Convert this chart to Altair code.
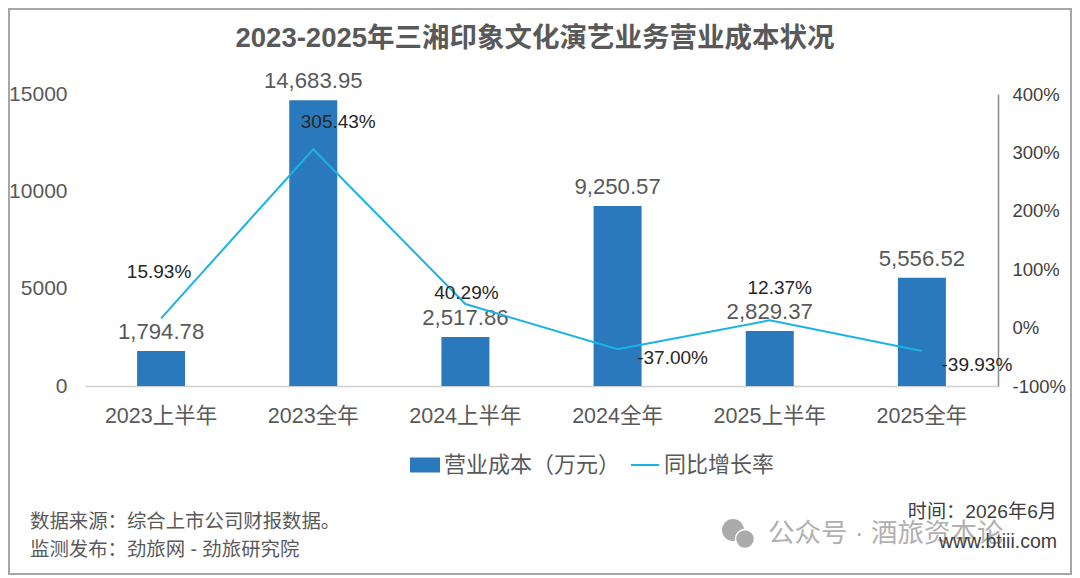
import altair as alt
import pandas as pd

categories = ["2023上半年", "2023全年", "2024上半年", "2024全年", "2025上半年", "2025全年"]
cost = [1794.78, 14683.95, 2517.86, 9250.57, 2829.37, 5556.52]
growth = [15.93, 305.43, 40.29, -37.00, 12.37, -39.93]
label_offsets = [(-2, -46), (25, -27), (1, -11), (55, 9), (10, -32), (55, 14)]

FONT = "Liberation Sans, Noto Sans CJK SC, sans-serif"
df = pd.DataFrame({"cat": categories, "cost": cost, "growth": growth})
df["series1"] = "营业成本（万元）"
df["series2"] = "同比增长率"
df["costLabel"] = [f"{v:,.2f}" for v in cost]
df["growthLabel"] = [f"{v:.2f}%" for v in growth]

x = alt.X("cat:N", sort=categories, title=None,
          scale=alt.Scale(paddingInner=0.68, paddingOuter=0.34, round=False),
          axis=alt.Axis(labelAngle=0, labelFontSize=21.5, labelColor="#595959", labelFont=FONT, ticks=False,
                        domainColor="#d0d0d0", domainWidth=1.5, labelPadding=19, grid=False))

left_scale = alt.Scale(domain=[0, 15000], nice=False)
right_scale = alt.Scale(domain=[-100, 400], nice=False)
y_left = alt.Y("cost:Q", title=None, scale=left_scale,
               axis=alt.Axis(orient="left", values=[0, 5000, 10000, 15000], format="d", labelFontSize=21,
                             labelColor="#595959", labelFont=FONT, ticks=False, domain=False, grid=False,
                             labelPadding=18))
y_left_plain = alt.Y("cost:Q", title=None, scale=left_scale, axis=None)
y_right = alt.Y("growth:Q", title=None, scale=right_scale,
                axis=alt.Axis(orient="right", values=[-100, 0, 100, 200, 300, 400], labelExpr="datum.value + '%'",
                              labelFontSize=18.5, labelColor="#404040", labelFont=FONT, ticks=False,
                              domainColor="#8c8c8c", domainWidth=1.5, grid=False, labelPadding=14))
y_right_plain = alt.Y("growth:Q", title=None, scale=right_scale, axis=None)

bars = alt.Chart(df).mark_bar(size=48).encode(
    x=x, y=y_left,
    color=alt.Color("series1:N", scale=alt.Scale(range=["#2b79bd"]),
                    legend=alt.Legend(title=None, orient="none", legendX=325, legendY=356,
                                      symbolType="M-1,-0.5H1V0.5H-1Z", symbolSize=900, labelFontSize=22,
                                      labelColor="#595959", labelFont=FONT, symbolStrokeWidth=0, labelLimit=300)))
bar_labels = alt.Chart(df).mark_text(fontSize=22.2, color="#595959", font=FONT, baseline="bottom", dy=-7).encode(
    x=x, y=y_left_plain, text="costLabel:N")

line = alt.Chart(df).mark_line(color="#1bb3e6", strokeWidth=2).encode(
    x=x, y=y_right,
    color=alt.Color("series2:N", scale=alt.Scale(range=["#1bb3e6"]),
                    legend=alt.Legend(title=None, orient="none", legendX=545, legendY=356, symbolType="stroke",
                                      symbolSize=784, labelFontSize=22, labelColor="#595959", labelFont=FONT,
                                      symbolStrokeWidth=2, labelLimit=300)))
growth_labels = [
    alt.Chart(df.iloc[[i]]).mark_text(fontSize=19, color="#262626", font=FONT, dx=dx, dy=dy).encode(
        x=x, y=y_right_plain, text="growthLabel:N")
    for i, (dx, dy) in enumerate(label_offsets)
]

anchor = pd.DataFrame({"a": [0]})


def note(text, px, py, size, color, align="left", weight="normal"):
    return alt.Chart(anchor).mark_text(text=text, fontSize=size, color=color, align=align, baseline="middle",
                                       fontWeight=weight, font=FONT).encode(
        x=alt.value(px - 85), y=alt.value(py - 94))


frame = alt.Chart(anchor).mark_rect(fillOpacity=0, stroke="#a6a6a6", strokeWidth=2).encode(
    x=alt.value(-76), x2=alt.value(986), y=alt.value(-85), y2=alt.value(480))

icon = [
    alt.Chart(anchor).mark_point(filled=True, color="#ababab", size=480, opacity=1).encode(
        x=alt.value(733 - 85), y=alt.value(530 - 94)),
    alt.Chart(anchor).mark_point(filled=True, color="#ababab", size=360, opacity=1, stroke="white", strokeWidth=1.5).encode(
        x=alt.value(745 - 85), y=alt.value(539 - 94)),
]

notes = [
    note("2023-2025年三湘印象文化演艺业务营业成本状况", 535, 39, 27.5, "#595959", "center", "bold"),
    note("数据来源：综合上市公司财报数据。", 30, 522, 19.4, "#595959"),
    note("监测发布：劲旅网 - 劲旅研究院", 30, 550, 19.4, "#595959"),
    note("时间：2026年6月", 1057, 512, 19.2, "#404040", "right"),
    note("公众号 · 酒旅资本论", 768, 534, 26.5, "#b0b0b0"),
    note("www.btiii.com", 1057, 542, 19.5, "#404040", "right"),
]

chart = alt.layer(frame, bars, bar_labels, line, *growth_labels, *icon, *notes).resolve_scale(
    y="independent", color="independent"
).properties(
    width=913, height=292,
    padding={"left": 77, "top": 86, "right": 74, "bottom": 190},
    autosize=alt.AutoSizeParams(type="none"),
    background="white",
).configure_view(stroke=None)

chart.save("out.html", embed_options={"renderer": "svg", "actions": False})
